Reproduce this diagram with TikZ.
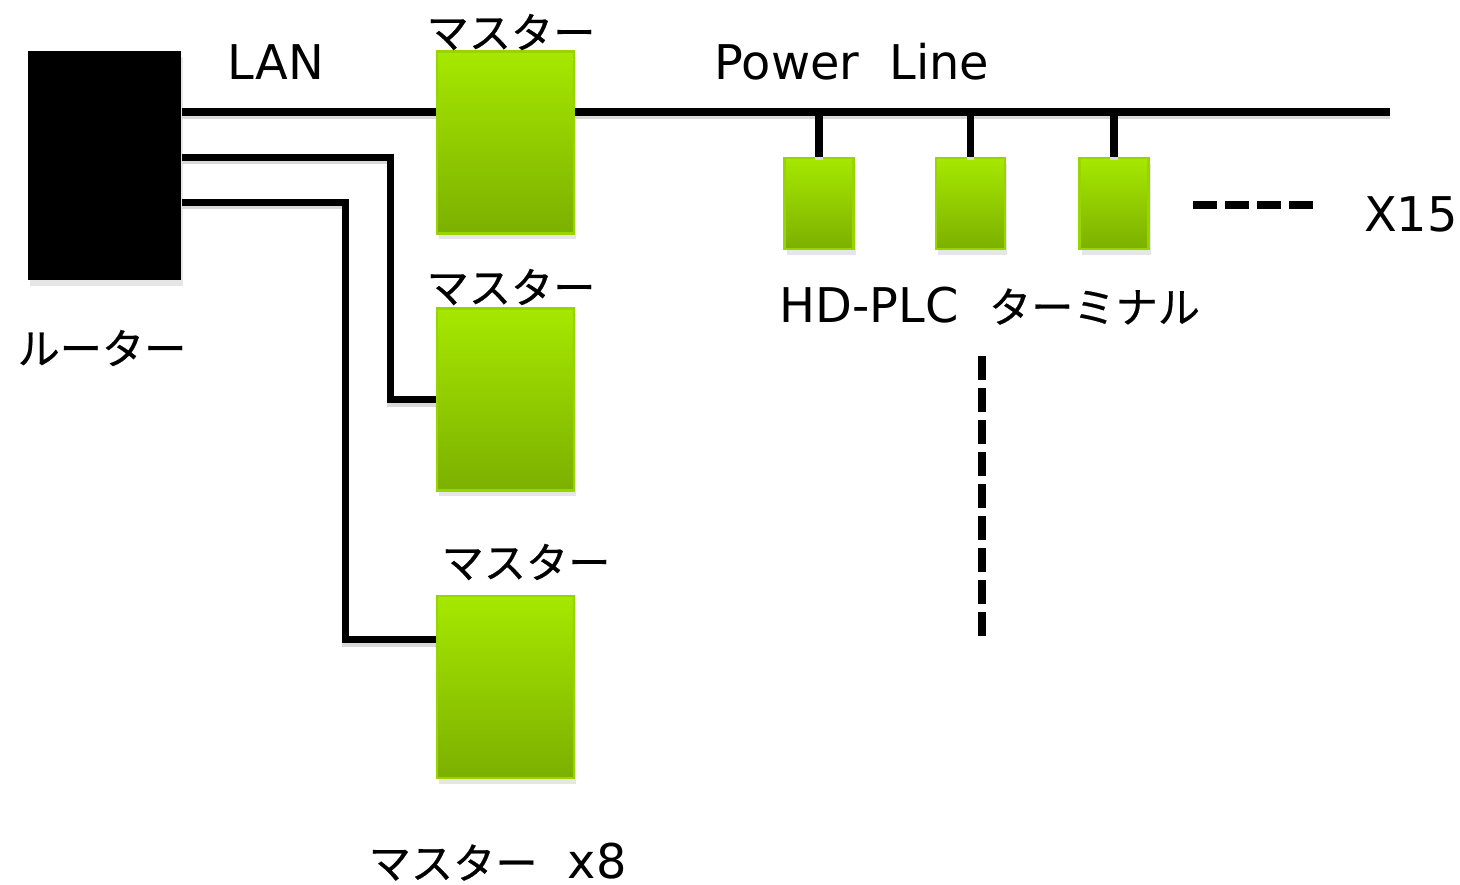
\documentclass[tikz,border=0pt]{standalone}
\usepackage{fontspec}
\setmainfont{DejaVu Sans}
\newfontfamily\jp[FakeBold=0.5]{Noto Sans CJK JP}
\usepackage{xcolor}
\usepackage{tikz}
\usetikzlibrary{calc,shadows}
\definecolor{limetop}{RGB}{166,232,0}
\definecolor{limebot}{RGB}{124,176,0}
\definecolor{limeedge}{RGB}{152,212,0}
\newcommand{\jpsz}{\jp\fontsize{12}{14}\selectfont}

\begin{document}
\begin{tikzpicture}[x=0.01cm,y=-0.01cm,
			box/.style={draw=limeedge,line width=0.8pt,top color=limetop,bottom color=limebot,inner sep=0pt,
				drop shadow={shadow xshift=0.6pt,shadow yshift=-1.6pt,opacity=0.2}},
			master/.style={box,minimum width=1.37cm,minimum height=1.82cm},
			terminal/.style={box,minimum width=0.69cm,minimum height=0.91cm},
			router/.style={fill=black,inner sep=0pt,minimum width=1.53cm,minimum height=2.29cm,
				drop shadow={shadow xshift=0.6pt,shadow yshift=-1.6pt,opacity=0.2}},
			wire/.style={line width=2pt,preaction={draw=black!15,line width=2pt,transform canvas={yshift=-1pt}}},
			dots/.style={line width=2.3pt,dash pattern=on 0.24cm off 0.08cm},
			lbl/.style={font=\fontsize{13.6}{16}\selectfont,inner sep=0pt},
			jlbl/.style={font=\jpsz,inner sep=0pt},
			]
			\useasboundingbox (0,0) rectangle (1460,885);
			
			% ルーター
			\node[router] (R) at (104.5,165.5) {};
			\node[jlbl] (rlbl) at (102,348) {ルーター};
			
			% マスター
			\node[master] (M1) at (505.5,142.5) {};
			\node[master] (M2) at (505.5,399.5) {};
			\node[master] (M3) at (505.5,687) {};
			\node[jlbl] (m1lbl) at (511,32) {マスター};
			\node[jlbl] (m2lbl) at (511,287) {マスター};
			\node[jlbl] (m3lbl) at (526,562) {マスター};
			\node[lbl,anchor=west] (mx) at (368,862) {{\jpsz マスター}~~x8};
			
			% ターミナル
			\node[terminal] (T1) at (819,203.5) {};
			\node[terminal] (T2) at (970.5,203.5) {};
			\node[terminal] (T3) at (1114,203.5) {};
			
			% LAN と Power Line
			\coordinate (pend) at (1390,112);
			\draw[wire] (R.east |- pend) -- (M1.west |- pend);
			\draw[wire] (M1.east |- pend) -- (pend);
			\foreach \t in {T1,T2,T3}
			\draw[wire] (\t.north |- pend) -- (\t.north);
			\draw[wire] ($(R.north east)+(0,107)$) -| ($(M2.west)+(-45,0)$) -- (M2.west);
			\draw[wire] ($(R.north east)+(0,152)$) -| ($(M3.north west)+(-90,45)$) -- ($(M3.north west)+(0,45)$);
			
			\node[lbl] (lan) at (276,62) {LAN};
			\node[lbl] (plbl) at (852,62) {Power~~Line};
			
			% 省略
			\coordinate (d1) at (1193,205);
			\coordinate (d2) at (1313,205);
			\draw[dots] (d1) -- (d2);
			\node[lbl] (x15) at (1411,214) {X15};
			\node[lbl,anchor=west] (hd) at (779,306) {HD-PLC~~{\jpsz ターミナル}};
			\coordinate (v1) at (982,356);
			\coordinate (v2) at (982,636);
			\draw[dots] (v1) -- (v2);
		\end{tikzpicture}
\end{document}
